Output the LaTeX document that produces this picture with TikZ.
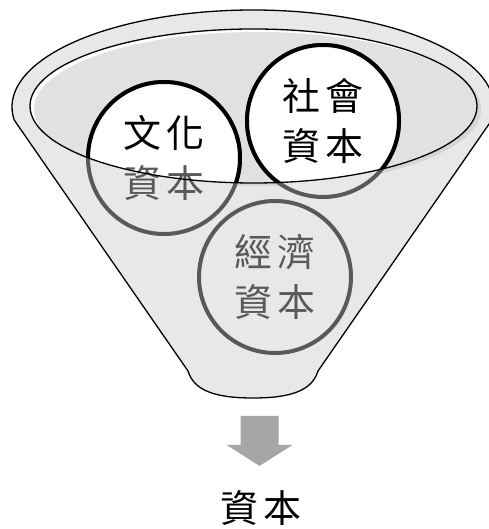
\documentclass[tikz,border=0pt]{standalone}
\usepackage{fontspec}
\newfontfamily\cjk{Noto Sans CJK TC}
\usetikzlibrary{calc}
\definecolor{funnelgrey}{HTML}{E8E8E8}
\definecolor{innergrey}{HTML}{E1E1E1}
\definecolor{shadegrey}{HTML}{D5D5D5}
\definecolor{ringgrey}{HTML}{595959}
\definecolor{arrowgrey}{HTML}{A6A6A6}

\begin{document}
\begin{tikzpicture}[x=1pt, y=1pt, ring/.style={circle,minimum size=152pt,inner sep=0pt,line width=4pt,align=center,font=\cjk\fontsize{38}{50}\selectfont},
  low/.style={ring,draw=ringgrey,fill=funnelgrey,text=ringgrey},
  high/.style={ring,draw=black,fill=white,text=black},
  rim/.style={x radius=223.5,y radius=77}]
\useasboundingbox (0,0) rectangle (488,529);
% funnel body
\filldraw[fill=funnelgrey,line width=1.3pt] (14.2,409) arc[start angle=187.7,end angle=-7.7,x radius=241,y radius=97] -- (318,158)
  .. controls (312,138) and (290,131) .. (253,131) .. controls (216,131) and (194,138) .. (188,158) -- cycle;
% opening
\fill[shadegrey] (257.5,420) ellipse[rim];
\fill[white] (253.5,423) ellipse[rim];
\begin{scope}
  \clip (253.5,423) ellipse[rim];
  \fill[innergrey] (257.5,420) ellipse[rim];
\end{scope}
% circles below the rim
\node[low] (c1) at (164,371) {文\kern6pt 化\\資\kern6pt 本};
\node[low] (c2) at (323,408) {社\kern6pt 會\\資\kern6pt 本};
\node[low] (c3) at (275,252) {經\kern6pt 濟\\資\kern6pt 本};
% circles inside the rim
\begin{scope}
  \clip (253.5,423) ellipse[rim];
  \node[high] (c1t) at (c1) {文\kern6pt 化\\\textcolor{ringgrey}{資\kern6pt 本}};
  \node[high] (c2t) at (c2) {社\kern6pt 會\\資\kern6pt 本};
\end{scope}
\draw[line width=1.3pt] (253.5,423) ellipse[rim];
% result
\node[font=\cjk\fontsize{38}{50}\selectfont] (res) at (261,21) {資\kern6pt 本};
\fill[arrowgrey] ($(res.north)+(-20.5,71)$) -- ++(38,0) -- ++(0,-29) -- ++(14,0) -- ++(-33,-21) -- ++(-33,21) -- ++(14,0) -- cycle;
\end{tikzpicture}
\end{document}
